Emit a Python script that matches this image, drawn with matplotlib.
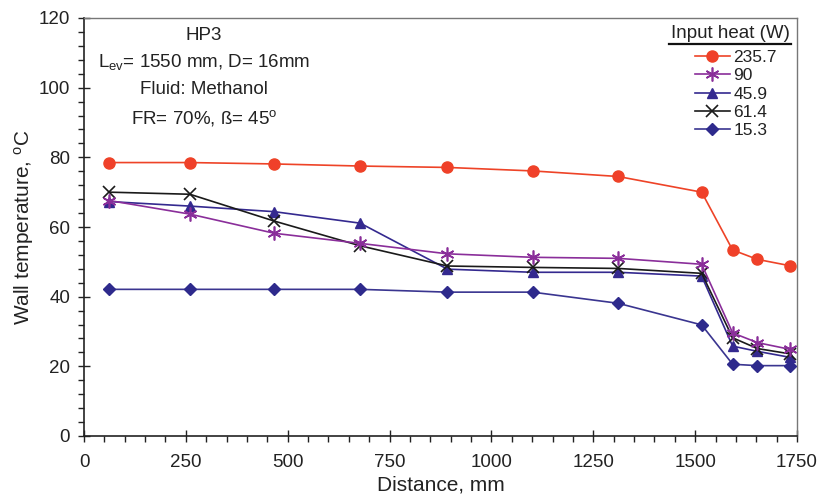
import numpy as np
import matplotlib
matplotlib.use('Agg')
import matplotlib.pyplot as plt
from matplotlib.lines import Line2D
from matplotlib.ticker import MultipleLocator

plt.rcParams['font.family'] = ['Liberation Sans', 'DejaVu Sans']
plt.rcParams['mathtext.fontset'] = 'custom'
plt.rcParams['mathtext.rm'] = 'Liberation Sans'
plt.rcParams['mathtext.it'] = 'Liberation Sans'

# distance along the heat pipe (mm)
distance = [62, 260, 467, 678, 892, 1101, 1311, 1516, 1592, 1653, 1732]

# wall temperatures (C) for each input heat
t_235_7 = [78.5, 78.5, 78.1, 77.5, 77.1, 76.1, 74.5, 70.0, 53.4, 50.7, 48.9]
t_90 = [67.6, 63.7, 58.2, 55.3, 52.3, 51.3, 51.0, 49.3, 29.6, 26.8, 24.9]
t_45_9 = [67.3, 66.0, 64.4, 61.1, 47.9, 47.0, 47.0, 45.9, 25.8, 24.3, 22.6]
t_61_4 = [70.0, 69.4, 61.7, 54.6, 48.8, 48.4, 48.1, 46.7, 28.2, 25.1, 23.6]
t_15_3 = [42.1, 42.1, 42.1, 42.1, 41.3, 41.3, 38.1, 31.9, 20.6, 20.2, 20.2]

labels = ['235.7', '90', '45.9', '61.4', '15.3']

fig = plt.figure(figsize=(8.17, 4.99), dpi=100)
ax = fig.add_axes([84 / 817, 1 - 436 / 499, 713 / 817, 418 / 499])

ax.plot(distance, t_235_7, color='#EE4327', lw=1.2, marker='o', ms=8,
        mec='#EE4327', mfc='#F0402A', label=labels[0], zorder=5)
ax.plot(distance, t_90, color='#8A2E9A', lw=1.2, marker=(6, 2, 0), ms=10,
        mew=1.2, label=labels[1], zorder=4)
ax.plot(distance, t_45_9, color='#34298F', lw=1.2, marker='^', ms=7.5,
        label=labels[2], zorder=3)
ax.plot(distance, t_61_4, color='#1A1A1A', lw=1.2, marker='x', ms=9,
        mew=1.2, label=labels[3], zorder=3)
ax.plot(distance, t_15_3, color='#3A3590', lw=1.2, marker='D', ms=6.5,
        mfc='#2E2A8C', mec='#2E2A8C', label=labels[4], zorder=3)

ax.set_xlim(0, 1750)
ax.set_ylim(0, 120)
ax.xaxis.set_major_locator(MultipleLocator(250))
ax.xaxis.set_minor_locator(MultipleLocator(50))
ax.yaxis.set_major_locator(MultipleLocator(20))
ax.yaxis.set_minor_locator(MultipleLocator(4))
ax.tick_params(which='major', direction='inout', length=8, width=1,
               labelsize=13.5, colors='#222222')
ax.tick_params(axis='x', which='major', pad=9)
ax.tick_params(axis='y', which='major', pad=6)
ax.tick_params(which='minor', direction='out', length=4, width=1, colors='#222222')

for s in ['left', 'bottom']:
    ax.spines[s].set_color('#222222')
    ax.spines[s].set_linewidth(1.2)
for s in ['top', 'right']:
    ax.spines[s].set_color('#777777')
    ax.spines[s].set_linewidth(1.0)

ax.set_xlabel('Distance, mm', fontsize=15, color='#222222', labelpad=3)
ax.set_ylabel('Wall temperature, $^{\\rm o}$C', fontsize=15, color='#222222', labelpad=2)

# info block
info = ['HP3', 'L$_{\\rm ev}$= 1550 mm, D= 16mm', 'Fluid: Methanol',
        'FR= 70%, \u00df= 45$^{\\rm o}$']
for i, t in enumerate(info):
    fig.text(204 / 817, 1 - (35 + 27.5 * i) / 499, t, ha='center', va='center',
             fontsize=13.5, color='#222222')

# legend with underlined title
leg = ax.legend(loc='upper left', bbox_to_anchor=(611 / 713, 1 - 32 / 418),
                frameon=False, fontsize=12.5, handlelength=2.0, handletextpad=0.2,
                labelspacing=0.18, borderaxespad=0, borderpad=0)
for t in leg.get_texts():
    t.set_color('#222222')
fig.text(730 / 817, 1 - 34 / 499, 'Input heat (W)', ha='center', va='center',
         fontsize=13.5, color='#222222')
fig.add_artist(Line2D([669 / 817, 791 / 817], [1 - 44 / 499, 1 - 44 / 499],
                      transform=fig.transFigure, color='#111111', lw=1.6))

fig.savefig('out.png', dpi=100)
